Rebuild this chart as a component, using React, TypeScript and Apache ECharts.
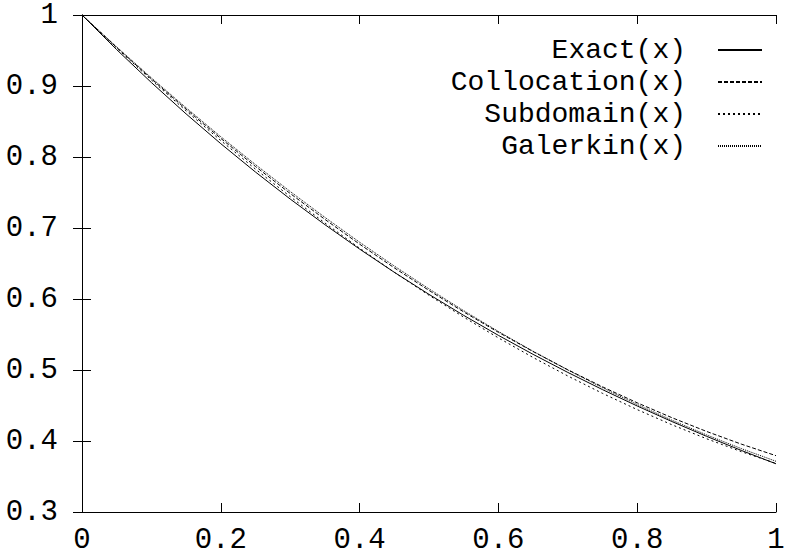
import React, { useEffect, useRef } from "react";
import * as echarts from "echarts";

const xs = [0, 0.05, 0.1, 0.15, 0.2, 0.25, 0.3, 0.35, 0.4, 0.45, 0.5, 0.55, 0.6, 0.65, 0.7, 0.75, 0.8, 0.85, 0.9, 0.95, 1];

const exact = [1, 0.95123, 0.90484, 0.86071, 0.81873, 0.7788, 0.74082, 0.70469, 0.67032, 0.63763, 0.60653, 0.57695, 0.54881, 0.52205, 0.49659, 0.47237, 0.44933, 0.42741, 0.40657, 0.38674, 0.36788];
const collocation = [1, 0.95423, 0.91, 0.86733, 0.82621, 0.78664, 0.74862, 0.71216, 0.67724, 0.64388, 0.61207, 0.58181, 0.5531, 0.52595, 0.50035, 0.4763, 0.4538, 0.43284, 0.41345, 0.3956, 0.37931];
const subdomain = [1, 0.95342, 0.90842, 0.865, 0.82316, 0.7829, 0.74421, 0.70711, 0.67158, 0.63763, 0.60526, 0.57447, 0.54526, 0.51763, 0.49158, 0.46711, 0.44421, 0.42289, 0.40316, 0.385, 0.36842];
const galerkin = [1, 0.955, 0.91143, 0.86929, 0.82857, 0.78929, 0.75143, 0.715, 0.68, 0.64643, 0.61429, 0.58357, 0.55429, 0.52643, 0.5, 0.475, 0.45143, 0.42929, 0.40857, 0.38929, 0.37143];

const seriesNames = ["Exact(x)", "Collocation(x)", "Subdomain(x)", "Galerkin(x)"];

const FONT = "Liberation Mono, Courier New, monospace";

export default function App() {
  const ref = useRef<HTMLDivElement>(null);
  useEffect(() => {
    if (!ref.current) return;
    const chart = echarts.init(ref.current, null, { renderer: "svg" });
    const pairs = (ys: number[]) => xs.map((x, i) => [x, ys[i]]);
    const dashes: any[] = ["solid", [4, 2], [2, 3], [1, 1]];
    const data = [exact, collocation, subdomain, galerkin];
    const axisCommon = {
      axisLine: { show: true, lineStyle: { color: "#000", width: 1 } },
      axisTick: { show: true, inside: true, length: 9, lineStyle: { color: "#000", width: 1 } },
      splitLine: { show: false },
    };
    chart.setOption({
      animation: false,
      backgroundColor: "#fff",
      grid: { left: 82, right: 18, top: 15, bottom: 45 },
      xAxis: [
        {
          type: "value", min: 0, max: 1, interval: 0.2, position: "bottom",
          ...axisCommon,
          axisLabel: { show: true, color: "#000", fontFamily: FONT, fontSize: 29, lineHeight: 25, margin: 16 },
        },
        {
          type: "value", min: 0, max: 1, interval: 0.2, position: "top",
          ...axisCommon,
          axisLabel: { show: false },
        },
      ],
      yAxis: [
        {
          type: "value", min: 0.3, max: 1, interval: 0.1, position: "left",
          ...axisCommon,
          axisLabel: { show: true, color: "#000", fontFamily: FONT, fontSize: 29, margin: 24 },
        },
        {
          type: "value", min: 0.3, max: 1, interval: 0.1, position: "right",
          ...axisCommon,
          axisLabel: { show: false },
        },
      ],
      legend: {
        show: true,
        orient: "vertical",
        align: "right",
        right: 26,
        top: 31,
        itemWidth: 44,
        itemHeight: 14,
        itemGap: 4,
        selectedMode: false,
        data: seriesNames,
        itemStyle: { color: "transparent", borderWidth: 0, opacity: 0 },
        textStyle: {
          color: "#000",
          fontFamily: FONT,
          fontSize: 28,
          lineHeight: 26,
          padding: [0, 27, 0, 0],
        },
      },
      series: seriesNames.map((name, i) => ({
        name,
        type: "line",
        xAxisIndex: 0,
        yAxisIndex: 0,
        data: pairs(data[i]),
        showSymbol: false,
        symbol: "none",
        smooth: false,
        lineStyle: { color: "#000", width: 1, type: dashes[i] },
        itemStyle: { color: "#000" },
      })),
    });
    return () => chart.dispose();
  }, []);
  return (
    <div
      ref={ref}
      style={{ position: "fixed", left: 0, top: 0, width: 794, height: 557, background: "#fff" }}
    />
  );
}
